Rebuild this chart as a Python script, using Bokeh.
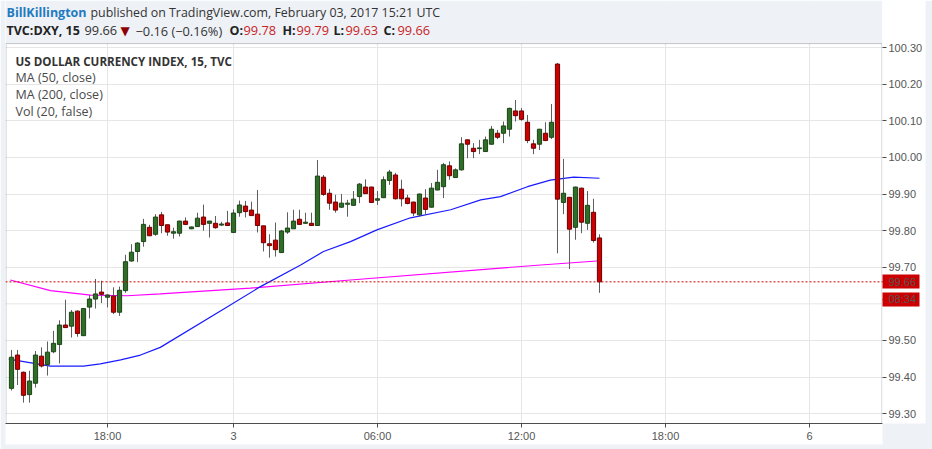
from bokeh.plotting import figure
from bokeh.models import (ColumnDataSource, FixedTicker, Span, Label, PrintfTickFormatter,
                          Range1d, BoxAnnotation)
from bokeh.embed import file_html
from bokeh.resources import INLINE

# ---- data (15-minute candles, TVC:DXY) ----
opens = [99.369, 99.460, 99.413, 99.352, 99.383, 99.457, 99.434, 99.469, 99.489, 99.542,
         99.539, 99.580, 99.513, 99.591, 99.613, 99.632, 99.618, 99.621, 99.577, 99.636,
         99.717, 99.743, 99.770, 99.809, 99.790, 99.843, 99.816, 99.793, 99.793, 99.826,
         99.805, 99.811, 99.837, 99.820, 99.820, 99.815, 99.821, 99.795, 99.849, 99.867,
         99.856, 99.845, 99.813, 99.764, 99.774, 99.740, 99.796, 99.805, 99.831, 99.820,
         99.820, 99.814, 99.946, 99.902, 99.878, 99.864, 99.872, 99.869, 99.893, 99.919,
         99.919, 99.883, 99.890, 99.937, 99.952, 99.913, 99.889, 99.878, 99.843, 99.889,
         99.864, 99.911, 99.920, 99.977, 99.945, 99.966, 100.048, 100.025, 100.024, 100.016,
         100.036, 100.066, 100.066, 100.077, 100.127, 100.127, 100.096, 100.037, 100.036, 100.066,
         100.055, 100.255, 99.877, 99.891, 99.809, 99.916, 99.820, 99.850, 99.78]
highs = [99.474, 99.474, 99.415, 99.417, 99.471, 99.481, 99.497, 99.526, 99.555, 99.611,
         99.583, 99.582, 99.588, 99.624, 99.668, 99.663, 99.626, 99.645, 99.647, 99.734,
         99.763, 99.768, 99.832, 99.816, 99.845, 99.851, 99.816, 99.808, 99.827, 99.836,
         99.811, 99.849, 99.871, 99.827, 99.840, 99.824, 99.854, 99.858, 99.882, 99.881,
         99.879, 99.911, 99.813, 99.790, 99.822, 99.802, 99.850, 99.857, 99.857, 99.849,
         99.849, 99.993, 99.952, 99.914, 99.898, 99.900, 99.884, 99.908, 99.930, 99.940,
         99.920, 99.908, 99.948, 99.966, 99.958, 99.939, 99.898, 99.879, 99.901, 99.913,
         99.930, 99.966, 99.985, 99.989, 99.970, 100.055, 100.048, 100.039, 100.048, 100.057,
         100.086, 100.075, 100.098, 100.136, 100.157, 100.135, 100.116, 100.048, 100.078, 100.096,
         100.146, 100.258, 99.996, 99.892, 99.920, 99.917, 99.908, 99.887, 99.79]
lows = [99.363, 99.378, 99.330, 99.330, 99.371, 99.426, 99.404, 99.465, 99.437, 99.535,
        99.508, 99.510, 99.512, 99.560, 99.587, 99.602, 99.590, 99.572, 99.567, 99.630,
        99.715, 99.714, 99.756, 99.785, 99.786, 99.793, 99.786, 99.778, 99.784, 99.815,
        99.804, 99.810, 99.800, 99.781, 99.805, 99.813, 99.814, 99.795, 99.838, 99.836,
        99.840, 99.795, 99.743, 99.726, 99.729, 99.739, 99.791, 99.805, 99.816, 99.818,
        99.813, 99.813, 99.895, 99.857, 99.849, 99.862, 99.838, 99.868, 99.875, 99.900,
        99.876, 99.870, 99.889, 99.925, 99.885, 99.866, 99.872, 99.840, 99.838, 99.843,
        99.863, 99.910, 99.889, 99.939, 99.944, 99.964, 99.998, 99.998, 100.009, 100.015,
        100.035, 100.050, 100.039, 100.057, 100.098, 100.100, 100.039, 100.009, 100.020, 100.045,
        100.050, 99.738, 99.845, 99.695, 99.775, 99.793, 99.802, 99.767, 99.63]
closes = [99.454, 99.421, 99.350, 99.389, 99.460, 99.430, 99.468, 99.492, 99.542, 99.535,
          99.577, 99.519, 99.587, 99.613, 99.627, 99.626, 99.624, 99.577, 99.637, 99.715,
          99.741, 99.766, 99.817, 99.786, 99.837, 99.814, 99.796, 99.797, 99.826, 99.817,
          99.810, 99.834, 99.817, 99.826, 99.808, 99.818, 99.814, 99.848, 99.870, 99.852,
          99.841, 99.814, 99.767, 99.759, 99.748, 99.799, 99.807, 99.826, 99.817, 99.823,
          99.814, 99.949, 99.899, 99.875, 99.856, 99.875, 99.875, 99.886, 99.927, 99.901,
          99.877, 99.887, 99.939, 99.960, 99.887, 99.887, 99.874, 99.848, 99.900, 99.858,
          99.916, 99.932, 99.980, 99.950, 99.966, 100.037, 100.036, 100.016, 100.026, 100.048,
          100.077, 100.055, 100.086, 100.134, 100.114, 100.104, 100.046, 100.025, 100.077, 100.046,
          100.096, 99.886, 99.902, 99.804, 99.919, 99.823, 99.869, 99.773, 99.66]

# moving averages (bar index, value)
ma50_x = [-0.45, 6.5, 12, 14.8, 18.2, 21.5, 24.8, 35.1, 41.5, 48.2, 52, 56.5, 60.9,
          66.5, 73.2, 78.2, 81.5, 86, 89.8, 93.7, 98]
ma50_y = [99.449, 99.430, 99.430, 99.436, 99.447, 99.460, 99.481, 99.583, 99.647, 99.706,
          99.743, 99.770, 99.802, 99.835, 99.857, 99.884, 99.893, 99.920, 99.938, 99.946, 99.943]
ma200_x = [-0.2, 6.5, 13.2, 19.3, 24.8, 39.8, 56.5, 81, 88.2, 97.6]
ma200_y = [99.665, 99.636, 99.624, 99.622, 99.627, 99.643, 99.665, 99.697, 99.706, 99.717]

x_ticks = [16, 37, 61, 85, 109, 133]
x_labels = ["18:00", "3", "06:00", "12:00", "18:00", "6"]
y_ticks = [99.3, 99.4, 99.5, 99.7, 99.8, 99.9, 100.0, 100.1, 100.2, 100.3]
last_price = 99.66
countdown = "08:34"
countdown_y = 99.612

GREEN, GREEN_LINE = "#2E6E27", "#1C4418"
RED, RED_LINE = "#CC0000", "#6A0000"
BG = "#eef1f6"
EDGE = "#4d4d4d"

X0, X1 = -1.0, 145.17          # visible bar-index range
Y0, YBOX = 99.273, 100.311      # chart box price range
YTOP = 100.4287                 # frame also holds the header strip

idx = list(range(len(opens)))
up = [c >= o for o, c in zip(opens, closes)]
src = ColumnDataSource(dict(
    x=idx, high=highs, low=lows,
    top=[max(o, c) for o, c in zip(opens, closes)],
    bottom=[min(o, c) for o, c in zip(opens, closes)],
    fill=[GREEN if u else RED for u in up],
    line=[GREEN_LINE if u else RED_LINE for u in up],
))

p = figure(width=932, height=449, output_backend="svg", toolbar_location=None,
           x_range=Range1d(X0, X1), y_range=Range1d(Y0, YTOP),
           y_axis_location="right", min_border_left=5, min_border_top=0,
           min_border_bottom=26, min_border_right=50)
p.background_fill_color = "white"
p.border_fill_color = BG
p.outline_line_color = None

# ---- axes ----
for ax in (p.xaxis[0], p.yaxis[0]):
    ax.axis_line_color = EDGE
    ax.major_tick_line_color = EDGE
    ax.major_tick_in = 0
    ax.major_tick_out = 4
    ax.minor_tick_line_color = None
    ax.major_label_text_font = "Liberation Sans"
    ax.major_label_text_font_size = "11px"
    ax.major_label_text_color = "#555555"
    ax.major_label_standoff = 2
    try:
        ax.background_fill_color = "white"
    except Exception:
        pass
p.yaxis.axis_line_color = None

p.xaxis.ticker = FixedTicker(ticks=x_ticks)
p.xaxis.major_label_overrides = {t: l for t, l in zip(x_ticks, x_labels)}

# price axis: regular ticks plus the last-price and countdown tags
# (minor ticks drawn as thick red bars form the tag boxes)
p.yaxis.ticker = FixedTicker(ticks=y_ticks + [last_price, countdown_y],
                             minor_ticks=[last_price, countdown_y])
p.yaxis.formatter = PrintfTickFormatter(format="%.2f")
p.yaxis.major_label_overrides = {last_price: "99.66", countdown_y: countdown}
p.yaxis.minor_tick_line_color = "#cc0000"
p.yaxis.minor_tick_line_width = 14
try:
    # draw the bar outward without enlarging the axis' tick extent
    p.yaxis.minor_tick_in = -37
    p.yaxis.minor_tick_out = 0
except Exception:
    p.yaxis.minor_tick_in = 0
    p.yaxis.minor_tick_out = 37

p.xgrid.ticker = FixedTicker(ticks=x_ticks)
p.ygrid.ticker = FixedTicker(ticks=y_ticks)
p.xgrid.grid_line_color = "#e6e6e6"
p.ygrid.grid_line_color = "#e6e6e6"
p.add_layout(Span(location=99.6, dimension="width", line_color="#e6e6e6", line_width=1, level="underlay"))

# header strip (top of the frame) and chart box border
p.add_layout(BoxAnnotation(bottom=YBOX, fill_color=BG, fill_alpha=1, line_color=None,
                           level="underlay"))
p.add_layout(BoxAnnotation(left=X0 + 0.5 / 6, right=X1 - 0.5 / 6, bottom=Y0, top=YBOX,
                           fill_alpha=0, line_color=EDGE, line_width=1, level="underlay"))

# moving averages
p.line(ma200_x, ma200_y, line_color="#ff00ff", line_width=1.2)
p.line(ma50_x, ma50_y, line_color="#1a1aff", line_width=1.2)

# candles
p.segment(x0="x", y0="low", x1="x", y1="high", line_color="#5e5e5e", line_width=1, source=src)
p.vbar(x="x", width=0.7, top="top", bottom="bottom", fill_color="fill", line_color="line",
       line_width=1, source=src)

# last price line
p.add_layout(Span(location=last_price, dimension="width", line_color="#cc0000",
                  line_dash="2 2", line_width=1))

FONT = "Open Sans"

def lab(x, y, text, color="#333333", style="normal", size="12px", font=FONT):
    p.add_layout(Label(x=x, y=y, x_units="screen", y_units="screen", text=text,
                       text_color=color, text_font_style=style, text_font_size=size,
                       text_font=font, text_baseline="middle"))

# header lines
H1, H2 = 411, 393
DARK = "#222222"
lab(1, H1, "BillKillington", color="#1f7bc1", style="bold", size="12.5px")
lab(85, H1, "published on TradingView.com, February 03, 2017 15:21 UTC", size="12.4px")
lab(1, H2, "TVC:DXY, 15", color=DARK, style="bold", size="12.5px")
lab(79, H2, "99.66", size="12.8px")
lab(115, H2, "\u25bc", color="#8b0000", size="12px", font="DejaVu Sans")
lab(130, H2, "\u22120.16 (\u22120.16%)", size="12.8px")
RV = "#c8231f"
lab(224, H2, "O:", color=DARK, style="bold", size="12.5px")
lab(238, H2, "99.78", color=RV, size="12.8px")
lab(277, H2, "H:", color=DARK, style="bold", size="12.5px")
lab(291, H2, "99.79", color=RV, size="12.8px")
lab(328, H2, "L:", color=DARK, style="bold", size="12.5px")
lab(340, H2, "99.63", color=RV, size="12.8px")
lab(378, H2, "C:", color=DARK, style="bold", size="12.5px")
lab(392, H2, "99.66", color=RV, size="12.8px")

# legend inside the chart box
lab(10, 362, "US DOLLAR CURRENCY INDEX, 15, TVC", color="#333333", style="bold", size="11.6px")
lab(10, 346, "MA (50, close)", color="#4a4a4a", size="12.5px")
lab(10, 329, "MA (200, close)", color="#4a4a4a", size="12.5px")
lab(10, 312, "Vol (20, false)", color="#4a4a4a", size="12.5px")

open("out.html", "w").write(file_html(p, INLINE))
